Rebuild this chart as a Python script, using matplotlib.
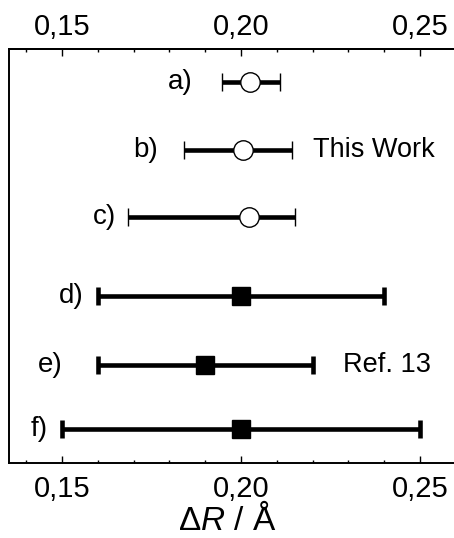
import numpy as np
import matplotlib
matplotlib.use("Agg")
import matplotlib.pyplot as plt
from matplotlib.ticker import MultipleLocator, FixedLocator, FuncFormatter

plt.rcParams['font.family'] = ['Liberation Sans', 'DejaVu Sans']
plt.rcParams['mathtext.fontset'] = 'custom'
plt.rcParams['mathtext.rm'] = 'Liberation Sans'
plt.rcParams['mathtext.it'] = 'Liberation Sans:italic'

# data
labels = ['a)', 'b)', 'c)', 'd)', 'e)', 'f)']
center = [0.2025, 0.2007, 0.2022, 0.200, 0.190, 0.200]
low = [0.1947, 0.1841, 0.1684, 0.160, 0.160, 0.150]
high = [0.2109, 0.2142, 0.2151, 0.240, 0.220, 0.250]
this_work = [True, True, True, False, False, False]
xticks = [0.15, 0.20, 0.25]

# layout
ypos = [0, 1, 2, 3.17, 4.19, 5.14]
label_x = [0.1866, 0.1768, 0.1650, 0.1560, 0.1503, 0.1460]

fig = plt.figure(figsize=(4.54, 5.38), dpi=100)
ax = fig.add_axes([9/454, 75/538, 465/454, 414/538])

for i in range(len(labels)):
    c = center[i]
    xerr = [[c - low[i]], [high[i] - c]]
    if this_work[i]:
        ax.errorbar([c], [ypos[i]], xerr=xerr, fmt='o', color='black',
                    mfc='white', mec='black', mew=1.0, ms=14,
                    elinewidth=3.3, capsize=6.5, capthick=3.3, zorder=3)
    else:
        ax.errorbar([c], [ypos[i]], xerr=xerr, fmt='s', color='black',
                    ms=13, elinewidth=3.3, capsize=6.5, capthick=3.3, zorder=3)
    ax.text(label_x[i], ypos[i], labels[i], ha='right', va='center',
            fontsize=20)

ax.text(0.2200, 1, 'This Work', ha='left', va='center', fontsize=19.5)
ax.text(0.2285, 4.19, 'Ref. 13', ha='left', va='center', fontsize=19.5)

fmt = FuncFormatter(lambda v, p: ('%.2f' % v).replace('.', ','))
ax.set_xlim(0.1352, 0.2651)
ax.set_ylim(5.64, -0.49)
ax.set_yticks([])
ax.xaxis.set_major_locator(FixedLocator(xticks))
ax.xaxis.set_minor_locator(MultipleLocator(0.01))
ax.xaxis.set_major_formatter(fmt)
ax.tick_params(axis='x', which='both', direction='in', top=False, bottom=True,
               labelsize=21, pad=8.5, width=1.0)
ax.tick_params(axis='x', which='major', length=5)
ax.tick_params(axis='x', which='minor', length=2.5)

top = ax.secondary_xaxis('top')
top.xaxis.set_major_locator(FixedLocator(xticks))
top.xaxis.set_minor_locator(MultipleLocator(0.01))
top.xaxis.set_major_formatter(fmt)
top.tick_params(axis='x', which='both', direction='in', labelsize=21, pad=5.5, width=1.0)
top.tick_params(axis='x', which='major', length=5)
top.tick_params(axis='x', which='minor', length=2.5)
top.spines['top'].set_linewidth(1.4)

for s in ax.spines.values():
    s.set_linewidth(1.4)

fig.text(227/454, 7.5/538, 'Δ$R$ / Å', ha='center', va='baseline', fontsize=24)

fig.savefig('out.png', dpi=100)
